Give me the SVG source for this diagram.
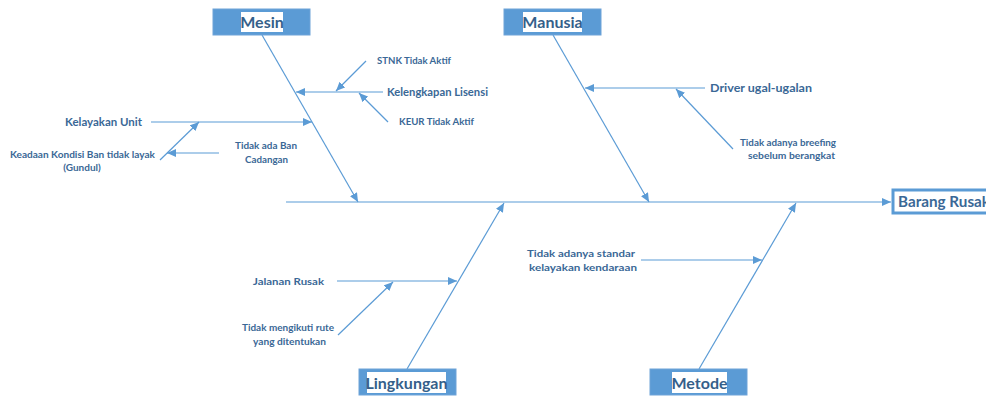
<svg xmlns="http://www.w3.org/2000/svg" width="986" height="396" viewBox="0 0 986 396">
<defs>
<marker id="ah" markerUnits="userSpaceOnUse" markerWidth="10" markerHeight="8" refX="9" refY="4" orient="auto">
<path d="M0,0 L9,4 L0,8 Z" fill="#5B9BD5"/>
</marker>
<style>
.ln{stroke:#5B9BD5;stroke-width:1.2;fill:none}
.ar{stroke:#5B9BD5;stroke-width:1.2;fill:none;marker-end:url(#ah)}
.box{fill:#5B9BD5;stroke:#6FA3D8;stroke-width:1}
.lb{fill:#fff}
.t{font-family:Lato,"Open Sans","Liberation Sans",sans-serif;font-weight:bold;fill:#3A6896}
.h{font-size:16px;fill:#355F8A}
.m{font-size:12px}
.s{font-size:10px}
</style>
</defs>
<rect width="986" height="396" fill="#fff"/>
<g id="connectors">
<line class="ar" x1="286" y1="202" x2="891" y2="202"/>
<line class="ar" x1="262" y1="35" x2="358" y2="202"/>
<line class="ar" x1="553" y1="35" x2="649" y2="202"/>
<line class="ar" x1="407" y1="369" x2="504" y2="203"/>
<line class="ar" x1="699" y1="369" x2="796" y2="203"/>
<line class="ar" x1="383" y1="92" x2="296" y2="92"/>
<line class="ar" x1="366" y1="61" x2="336" y2="91"/>
<line class="ar" x1="388" y1="122" x2="359" y2="93"/>
<line class="ar" x1="151" y1="122" x2="312" y2="122"/>
<line class="ar" x1="160" y1="160" x2="199" y2="122"/>
<line class="ar" x1="219" y1="153" x2="167" y2="153"/>
<line class="ar" x1="705" y1="88" x2="585" y2="88"/>
<line class="ar" x1="733" y1="149" x2="676" y2="89"/>
<line class="ar" x1="337" y1="281" x2="457" y2="281"/>
<line class="ar" x1="338" y1="335" x2="393" y2="282"/>
<line class="ar" x1="641" y1="260" x2="762" y2="260"/>
</g>
<g id="mesin">
<rect class="box" x="213" y="9" width="97" height="26"/>
<rect class="lb" x="241" y="12" width="42" height="20"/>
<text class="t h" x="262" y="28" text-anchor="middle">Mesin</text>
</g>
<g id="manusia">
<rect class="box" x="504" y="9" width="97" height="26"/>
<rect class="lb" x="523" y="12" width="59" height="20"/>
<text class="t h" x="552.5" y="28" text-anchor="middle">Manusia</text>
</g>
<g id="lingkungan">
<rect class="box" x="359" y="369" width="97" height="26"/>
<rect class="lb" x="367" y="372" width="79" height="21"/>
<text class="t h" x="406.5" y="389" text-anchor="middle">Lingkungan</text>
</g>
<g id="metode">
<rect class="box" x="650" y="369" width="97" height="26"/>
<rect class="lb" x="672" y="372" width="55" height="21"/>
<text class="t h" x="699.5" y="389" text-anchor="middle">Metode</text>
</g>
<g id="barang-rusak">
<rect x="893" y="190" width="100" height="23" fill="#fff" stroke="#5B9BD5" stroke-width="3"/>
<text class="t" x="898" y="207" font-size="15" fill="#355F8A" textLength="92" lengthAdjust="spacingAndGlyphs">Barang Rusak</text>
</g>
<g id="kelengkapan-lisensi"><text class="t m" x="387" y="96" textLength="101" lengthAdjust="spacingAndGlyphs">Kelengkapan Lisensi</text></g>
<g id="stnk"><text class="t s" x="377" y="64" textLength="74" lengthAdjust="spacingAndGlyphs">STNK Tidak Aktif</text></g>
<g id="keur"><text class="t s" x="399" y="125" textLength="75" lengthAdjust="spacingAndGlyphs">KEUR Tidak Aktif</text></g>
<g id="kelayakan-unit"><text class="t m" x="65" y="126" textLength="77" lengthAdjust="spacingAndGlyphs">Kelayakan Unit</text></g>
<g id="kondisi-ban">
<text class="t s" x="10" y="158" textLength="145" lengthAdjust="spacingAndGlyphs">Keadaan Kondisi Ban tidak layak</text>
<text class="t s" x="82" y="171" text-anchor="middle">(Gundul)</text>
</g>
<g id="ban-cadangan">
<text class="t s" x="235" y="149" textLength="62" lengthAdjust="spacingAndGlyphs">Tidak ada Ban</text>
<text class="t s" x="245" y="163" textLength="43" lengthAdjust="spacingAndGlyphs">Cadangan</text>
</g>
<g id="driver"><text class="t m" x="710" y="92" textLength="102" lengthAdjust="spacingAndGlyphs">Driver ugal-ugalan</text></g>
<g id="breefing">
<text class="t s" x="740" y="146" textLength="96" lengthAdjust="spacingAndGlyphs">Tidak adanya breefing</text>
<text class="t s" x="748" y="159" textLength="87" lengthAdjust="spacingAndGlyphs">sebelum berangkat</text>
</g>
<g id="jalanan-rusak"><text class="t s" x="253" y="285" font-size="11" textLength="71" lengthAdjust="spacingAndGlyphs">Jalanan Rusak</text></g>
<g id="rute">
<text class="t s" x="242" y="331" textLength="92" lengthAdjust="spacingAndGlyphs">Tidak mengikuti rute</text>
<text class="t s" x="253" y="345" textLength="73" lengthAdjust="spacingAndGlyphs">yang ditentukan</text>
</g>
<g id="standar">
<text class="t s" x="527" y="257" textLength="108" lengthAdjust="spacingAndGlyphs">Tidak adanya standar</text>
<text class="t s" x="529" y="271" textLength="108" lengthAdjust="spacingAndGlyphs">kelayakan kendaraan</text>
</g>
</svg>
